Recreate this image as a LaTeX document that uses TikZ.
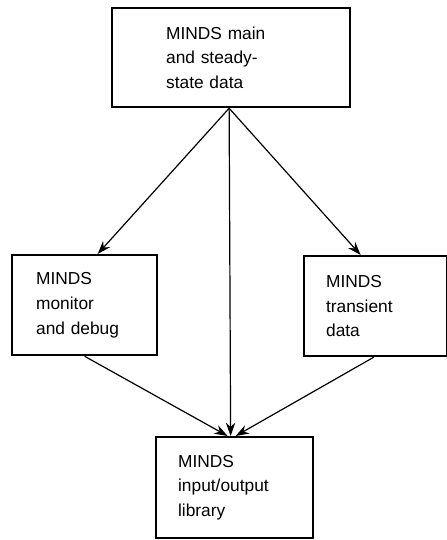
\documentclass[tikz,border=0pt]{standalone}
\usepackage{fontspec}
\setmainfont{Liberation Sans}
\usetikzlibrary{arrows.meta,calc}
\begin{document}
\begin{tikzpicture}[x=0.75pt,y=-0.75pt,
  box/.style={draw,line width=1.7pt,align=left,anchor=north west,inner ysep=0pt,
    font=\fontsize{13}{18.5}\selectfont},
  link/.style={line width=0.9pt,-{Stealth[length=10pt,width=7pt]}}]
\useasboundingbox (0,0) rectangle (447,540);

% module boxes (positions in pixel units)
\node[box,minimum width=178.5pt,minimum height=74.25pt,inner xsep=40.5pt,text width=97.5pt]
  (main) at (111,7) {MINDS main\\and steady-\\state data};
\node[box,minimum width=108.75pt,minimum height=75pt,inner xsep=18pt,text width=72.75pt]
  (mon) at (11,254) {MINDS\\monitor\\and debug};
\node[box,minimum width=107.25pt,minimum height=75pt,inner xsep=16.5pt,text width=74.25pt]
  (trans) at (303,255) {MINDS\\transient\\data};
\node[box,minimum width=117.75pt,minimum height=75.75pt,inner xsep=16.5pt,text width=84.75pt]
  (io) at (155,436) {MINDS\\input/output\\library};

% calls between modules
\draw[link] ($(main.south)+(-2,0)$) -- ($(mon.north)+(13,0)$);
\draw[link] ($(main.south)+(-2,0)$) -- ($(trans.north)+(-15,0)$);
\draw[link] ($(main.south)+(-2,0)$) -- ($(io.north)+(-4,0)$);
\draw[link] ($(mon.south)+(0,0)$) -- ($(io.north)+(-7,0)$);
\draw[link] ($(trans.south)+(-2,0)$) -- ($(io.north)+(1,0)$);
\end{tikzpicture}
\end{document}
